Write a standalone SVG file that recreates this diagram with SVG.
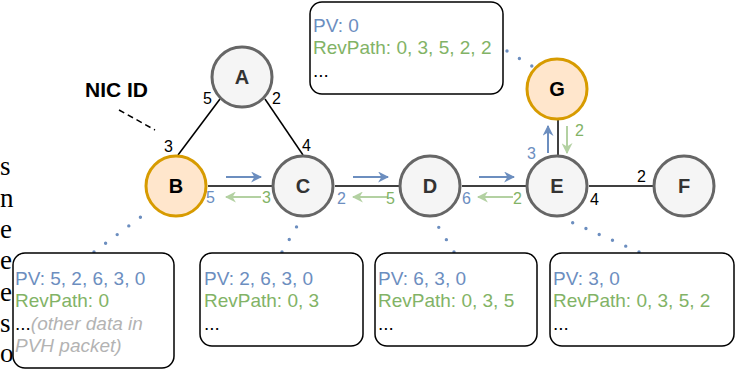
<svg xmlns="http://www.w3.org/2000/svg" width="741" height="372" viewBox="0 0 741 372">
<defs>
<style>
.node{stroke-width:3}
.gray{fill:#f5f5f5;stroke:#666666}
.orange{fill:#ffe6cc;stroke:#d79b00}
.nl{font-family:"Liberation Sans",Arial,sans-serif;font-weight:bold;font-size:20px;text-anchor:middle}
.edge{stroke:#000;stroke-width:1.5;fill:none}
.fw{stroke:#6c8ebf;stroke-width:2;fill:none;marker-end:url(#ab)}
.bw{stroke:#82b366;stroke-width:2;fill:none;opacity:0.6;marker-end:url(#ag)}
.lbl{font-family:"Liberation Sans",Arial,sans-serif;font-size:16px}
.blue{fill:#6c8ebf}
.green{fill:#82b366}
.blk{fill:#000}
.dot{stroke:#6c8ebf;stroke-width:3.4;stroke-linecap:round;stroke-dasharray:0 14.5;fill:none}
.box{fill:#fff;stroke:#000;stroke-width:1.5}
.bt{font-family:"Liberation Sans",Arial,sans-serif;font-size:19px}
.serif{font-family:"Liberation Serif","Times New Roman",serif;font-size:27px;fill:#000}
</style>
<marker id="ab" viewBox="0 0 10 10" refX="9" refY="5" markerWidth="5.5" markerHeight="5.5" orient="auto" markerUnits="strokeWidth">
<path d="M0,0 L10,5 L0,10 L3,5 Z" fill="#6c8ebf"/>
</marker>
<marker id="ag" viewBox="0 0 10 10" refX="9" refY="5" markerWidth="5.5" markerHeight="5.5" orient="auto" markerUnits="strokeWidth">
<path d="M0,0 L10,5 L0,10 L3,5 Z" fill="#82b366"/>
</marker>
</defs>
<rect width="741" height="372" fill="#fff"/>

<g id="page-text">
<text class="serif" x="0" y="175">s</text>
<text class="serif" x="0" y="207">n</text>
<text class="serif" x="0" y="238">e</text>
<text class="serif" x="0" y="269">e</text>
<text class="serif" x="0" y="301">e</text>
<text class="serif" x="0" y="332">s</text>
<text class="serif" x="0" y="362">o</text>
</g>

<g id="connectors">
<line class="edge" x1="220" y1="99" x2="178" y2="155"/>
<line class="edge" x1="265" y1="99" x2="303" y2="155"/>
<line class="edge" x1="208" y1="186" x2="272" y2="186"/>
<line class="edge" x1="335" y1="186" x2="399" y2="186"/>
<line class="edge" x1="462" y1="186" x2="526" y2="186"/>
<line class="edge" x1="589" y1="186" x2="653" y2="186"/>
<line class="edge" x1="558" y1="120" x2="558" y2="155"/>
<line x1="119" y1="110" x2="155" y2="130" stroke="#000" stroke-width="1.5" stroke-dasharray="6 4"/>
<path class="fw" d="M226,177 L261,177"/>
<path class="fw" d="M353,177 L388,177"/>
<path class="fw" d="M479,177 L514,177"/>
<path class="fw" d="M548,153 L548,126"/>
<path class="bw" d="M261,197 L226,197"/>
<path class="bw" d="M388,197 L353,197"/>
<path class="bw" d="M513,197 L478,197"/>
<path class="bw" d="M567,126 L567,153"/>
<path class="dot" d="M94,252 L150,210"/>
<path class="dot" d="M282,252 L304,214"/>
<path class="dot" d="M454,252 L433,218"/>
<path class="dot" d="M639,252 L562,218"/>
<path class="dot" d="M507,51 L535,68"/>
<text class="lbl blk" x="203" y="104">5</text>
<text class="lbl blk" x="272" y="104">2</text>
<text class="lbl blk" x="164" y="152">3</text>
<text class="lbl blk" x="302" y="151">4</text>
<text class="lbl blk" x="637" y="182">2</text>
<text class="lbl blk" x="590" y="205">4</text>
<text class="lbl blue" x="206" y="203">5</text>
<text class="lbl green" x="262" y="203">3</text>
<text class="lbl blue" x="337" y="204">2</text>
<text class="lbl green" x="386" y="204">5</text>
<text class="lbl blue" x="462" y="204">6</text>
<text class="lbl green" x="513" y="204">2</text>
<text class="lbl blue" x="527" y="159">3</text>
<text class="lbl green" x="575" y="136">2</text>
<text x="85" y="97" font-family="'Liberation Sans',Arial,sans-serif" font-weight="bold" font-size="21">NIC ID</text>
</g>

<g id="node-A"><circle class="node gray" cx="242" cy="77" r="30"/><text class="nl" x="242" y="84" fill="#333">A</text></g>
<g id="node-B"><circle class="node orange" cx="176" cy="186" r="30"/><text class="nl" x="176" y="193" fill="#000">B</text></g>
<g id="node-C"><circle class="node gray" cx="303" cy="186" r="30"/><text class="nl" x="303" y="193" fill="#333">C</text></g>
<g id="node-D"><circle class="node gray" cx="430" cy="186" r="30"/><text class="nl" x="430" y="193" fill="#333">D</text></g>
<g id="node-E"><circle class="node gray" cx="557" cy="186" r="30"/><text class="nl" x="557" y="193" fill="#333">E</text></g>
<g id="node-F"><circle class="node gray" cx="684" cy="186" r="30"/><text class="nl" x="684" y="193" fill="#333">F</text></g>
<g id="node-G"><circle class="node orange" cx="557" cy="89" r="30"/><text class="nl" x="557" y="96" fill="#000">G</text></g>

<g id="box-G">
<rect class="box" x="310" y="2" width="193" height="92" rx="12"/>
<text class="bt blue" x="313" y="32">PV: 0</text>
<text class="bt green" x="313" y="54">RevPath: 0, 3, 5, 2, 2</text>
<text class="bt blk" x="313" y="77">...</text>
</g>
<g id="box-B">
<rect class="box" x="13" y="253" width="161" height="115" rx="12"/>
<text class="bt blue" x="15" y="285">PV: 5, 2, 6, 3, 0</text>
<text class="bt green" x="15" y="307">RevPath: 0</text>
<text class="bt" x="15" y="330"><tspan fill="#000">...</tspan><tspan fill="#b3b3b3" font-style="italic">(other data in</tspan></text>
<text class="bt" x="15" y="352" fill="#b3b3b3" font-style="italic">PVH packet)</text>
</g>
<g id="box-C">
<rect class="box" x="200" y="253" width="163" height="93" rx="12"/>
<text class="bt blue" x="204" y="285">PV: 2, 6, 3, 0</text>
<text class="bt green" x="204" y="307">RevPath: 0, 3</text>
<text class="bt blk" x="204" y="330">...</text>
</g>
<g id="box-D">
<rect class="box" x="375" y="253" width="162" height="93" rx="12"/>
<text class="bt blue" x="378" y="285">PV: 6, 3, 0</text>
<text class="bt green" x="378" y="307">RevPath: 0, 3, 5</text>
<text class="bt blk" x="378" y="330">...</text>
</g>
<g id="box-E">
<rect class="box" x="550" y="253" width="184" height="93" rx="12"/>
<text class="bt blue" x="553" y="285">PV: 3, 0</text>
<text class="bt green" x="553" y="307">RevPath: 0, 3, 5, 2</text>
<text class="bt blk" x="553" y="330">...</text>
</g>
</svg>
